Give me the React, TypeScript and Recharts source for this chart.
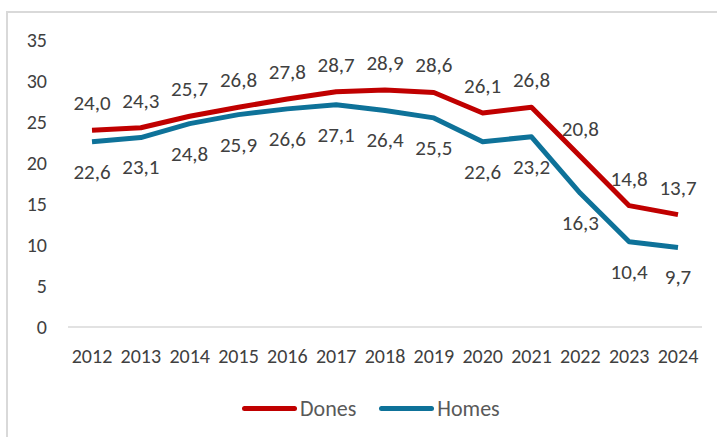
import React from 'react';
import { LineChart, Line, XAxis, YAxis, LabelList } from 'recharts';

const years = ['2012', '2013', '2014', '2015', '2016', '2017', '2018', '2019', '2020', '2021', '2022', '2023', '2024'];
const dones = [24.0, 24.3, 25.7, 26.8, 27.8, 28.7, 28.9, 28.6, 26.1, 26.8, 20.8, 14.8, 13.7];
const homes = [22.6, 23.1, 24.8, 25.9, 26.6, 27.1, 26.4, 25.5, 22.6, 23.2, 16.3, 10.4, 9.7];
const yTicks = [0, 5, 10, 15, 20, 25, 30, 35];

const RED = '#C00000';
const BLUE = '#0E7299';
const TEXT = '#404040';
const FONT = 'Carlito, Lato, sans-serif';

const data = years.map((y, i) => ({ year: y, Dones: dones[i], Homes: homes[i] }));

const fmt = (v: any) => Number(v).toFixed(1).replace('.', ',');

export default function App() {
    return (
        <div style={{ position: 'fixed', left: 0, top: 0, width: 717, height: 437, overflow: 'hidden', background: '#fff' }}>
            <div style={{ position: 'absolute', left: 0, top: 0 }}>
                <LineChart width={717} height={437} data={data} margin={{ top: 40, right: 15, bottom: 80, left: 0 }}>
                    <XAxis
                        dataKey="year"
                        height={30}
                        padding={{ left: 24, right: 24 }}
                        axisLine={{ stroke: '#d9d9d9', strokeWidth: 1.5 }}
                        tickLine={false}
                        tickSize={0}
                        tickMargin={22}
                        interval={0}
                        tick={{ fill: TEXT, fontSize: 20, fontFamily: FONT }}
                    />
                    <YAxis
                        width={68}
                        domain={[0, 35]}
                        ticks={yTicks}
                        axisLine={false}
                        tickLine={false}
                        tickSize={0}
                        tickMargin={21}
                        tick={{ fill: TEXT, fontSize: 20, fontFamily: FONT }}
                    />
                    <Line dataKey="Dones" stroke={RED} strokeWidth={5} dot={false} isAnimationActive={false} strokeLinejoin="round">
                        <LabelList dataKey="Dones" position="top" offset={20} formatter={fmt} fill={TEXT} fontSize={21} fontFamily={FONT} />
                    </Line>
                    <Line dataKey="Homes" stroke={BLUE} strokeWidth={5} dot={false} isAnimationActive={false} strokeLinejoin="round">
                        <LabelList dataKey="Homes" position="bottom" offset={22} formatter={fmt} fill={TEXT} fontSize={21} fontFamily={FONT} />
                    </Line>
                </LineChart>
            </div>
            {/* legend */}
            <div style={{ position: 'absolute', left: 242, top: 395, display: 'flex', alignItems: 'center', fontFamily: FONT, fontSize: 22, color: '#595959' }}>
                <span style={{ display: 'inline-block', width: 55, height: 5, borderRadius: 3, background: RED, marginRight: 3 }} />
                <span style={{ marginRight: 23 }}>Dones</span>
                <span style={{ display: 'inline-block', width: 55, height: 5, borderRadius: 3, background: BLUE, marginRight: 3 }} />
                <span>Homes</span>
            </div>
            {/* outer chart frame */}
            <div style={{ position: 'absolute', left: 6, top: 11, width: 2, height: 430, background: '#d9d9d9', zIndex: 5 }} />
            <div style={{ position: 'absolute', left: 6, top: 11, width: 720, height: 2, background: '#d9d9d9', zIndex: 5 }} />
        </div>
    );
}
